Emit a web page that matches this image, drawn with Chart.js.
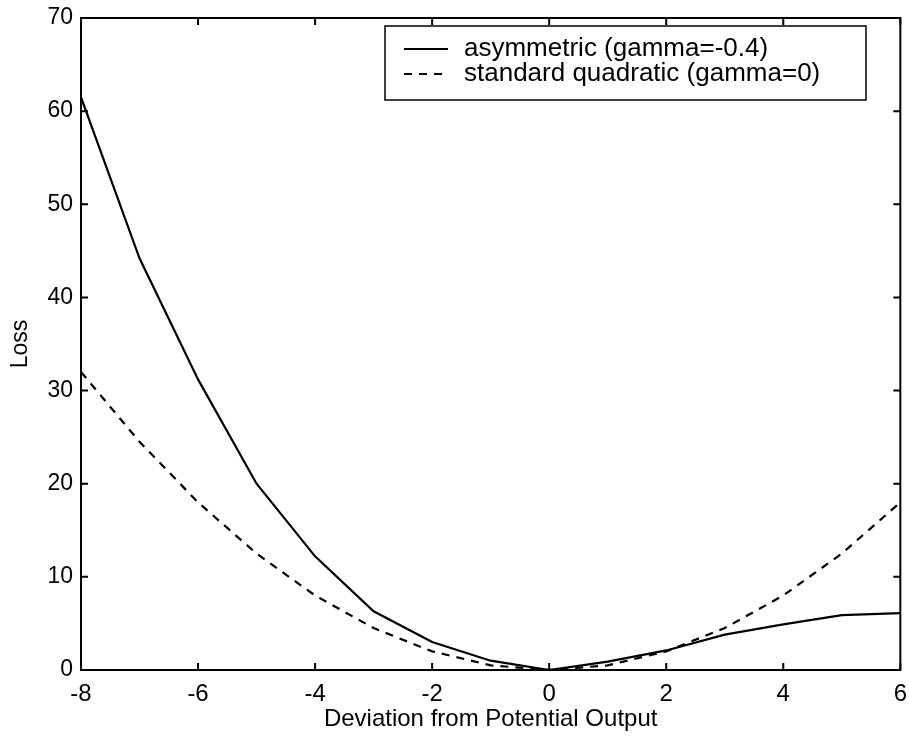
<!DOCTYPE html>
<html>
<head>
<meta charset="utf-8">
<script src="https://cdn.jsdelivr.net/npm/chart.js@4/dist/chart.umd.min.js"></script>
<style>
  html, body { margin: 0; padding: 0; background: #fff; }
  #wrap { width: 909px; height: 738px; }
</style>
</head>
<body>
<div id="wrap"><canvas id="lossChart" width="909" height="738"></canvas></div>
<script>
// Output gap values and the two loss curves
const deviation = [-8, -7, -6, -5, -4, -3, -2, -1, 0, 1, 2, 3, 4, 5, 6];
const asymmetricLoss = [61.5, 44.2, 31.2, 20.0, 12.2, 6.3, 3.0, 1.0, 0, 0.9, 2.1, 3.8, 4.9, 5.9, 6.1];
const quadraticLoss = [32, 24.5, 18, 12.5, 8, 4.5, 2, 0.5, 0, 0.5, 2, 4.5, 8, 12.5, 18];
const xTicks = [-8, -6, -4, -2, 0, 2, 4, 6];
const yTicks = [0, 10, 20, 30, 40, 50, 60, 70];

const FONT = '"Liberation Sans", Arial, sans-serif';

function toPoints(xs, ys) {
    return xs.map((x, i) => ({ x: x, y: ys[i] }));
}

// MATLAB style box: frame plus inward ticks on all four sides, and boxed legend
const boxPlugin = {
    id: 'matlabBox',
    afterDatasetsDraw(chart) {
        const ctx = chart.ctx;
        const a = chart.chartArea;
        const xs = chart.scales.x;
        const ys = chart.scales.y;
        const tickLen = 7;
        ctx.save();
        ctx.strokeStyle = '#000';
        ctx.lineWidth = 2;
        ctx.strokeRect(a.left, a.top, a.right - a.left, a.bottom - a.top);
        ctx.beginPath();
        xTicks.forEach(v => {
            const px = xs.getPixelForValue(v);
            ctx.moveTo(px, a.bottom); ctx.lineTo(px, a.bottom - tickLen);
            ctx.moveTo(px, a.top); ctx.lineTo(px, a.top + tickLen);
        });
        yTicks.forEach(v => {
            const py = ys.getPixelForValue(v);
            ctx.moveTo(a.left, py); ctx.lineTo(a.left + tickLen, py);
            ctx.moveTo(a.right, py); ctx.lineTo(a.right - tickLen, py);
        });
        ctx.stroke();

        // legend
        const lx = 385, ly = 26, lw = 481, lh = 74;
        ctx.fillStyle = '#fff';
        ctx.fillRect(lx, ly, lw, lh);
        ctx.lineWidth = 1.5;
        ctx.strokeRect(lx, ly, lw, lh);
        ctx.font = '26px ' + FONT;
        ctx.fillStyle = '#000';
        ctx.textBaseline = 'middle';
        chart.data.datasets.forEach((ds, i) => {
            const y = ly + 23 + i * 25;
            ctx.beginPath();
            ctx.lineWidth = 2;
            ctx.setLineDash(ds.borderDash || []);
            ctx.moveTo(lx + 19, y);
            ctx.lineTo(lx + 63, y);
            ctx.stroke();
            ctx.setLineDash([]);
            ctx.fillText(ds.label, lx + 79, y);
        });
        ctx.restore();
    }
};

new Chart(document.getElementById('lossChart'), {
    type: 'line',
    data: {
        datasets: [
            {
                label: 'asymmetric (gamma=-0.4)',
                data: toPoints(deviation, asymmetricLoss),
                borderColor: '#000',
                borderWidth: 2.2,
                pointRadius: 0,
                tension: 0,
                fill: false
            },
            {
                label: 'standard quadratic (gamma=0)',
                data: toPoints(deviation, quadraticLoss),
                borderColor: '#000',
                borderWidth: 2.2,
                borderDash: [8, 7],
                pointRadius: 0,
                tension: 0,
                fill: false
            }
        ]
    },
    options: {
        responsive: false,
        animation: false,
        layout: { padding: { top: 18, right: 8, left: 0, bottom: 0 } },
        plugins: {
            legend: { display: false },
            tooltip: { enabled: false }
        },
        scales: {
            x: {
                type: 'linear',
                min: -8,
                max: 6,
                afterBuildTicks: s => { s.ticks = xTicks.map(v => ({ value: v })); },
                afterFit: s => { s.height = 68; },
                grid: { display: false },
                border: { display: false },
                ticks: {
                    color: '#000',
                    padding: 2,
                    maxRotation: 0,
                    font: { family: FONT, size: 24 }
                },
                title: {
                    display: true,
                    text: 'Deviation from Potential Output',
                    color: '#000',
                    padding: { top: 0, bottom: 4 },
                    font: { family: FONT, size: 24 }
                }
            },
            y: {
                type: 'linear',
                min: 0,
                max: 70,
                afterBuildTicks: s => { s.ticks = yTicks.map(v => ({ value: v })); },
                afterFit: s => { s.width = 81; },
                grid: { display: false },
                border: { display: false },
                ticks: {
                    color: '#000',
                    padding: 0,
                    font: { family: FONT, size: 23 }
                },
                title: {
                    display: true,
                    text: 'Loss',
                    color: '#000',
                    padding: { top: 7, bottom: 0 },
                    font: { family: FONT, size: 23 }
                }
            }
        }
    },
    plugins: [boxPlugin]
});
</script>
</body>
</html>
